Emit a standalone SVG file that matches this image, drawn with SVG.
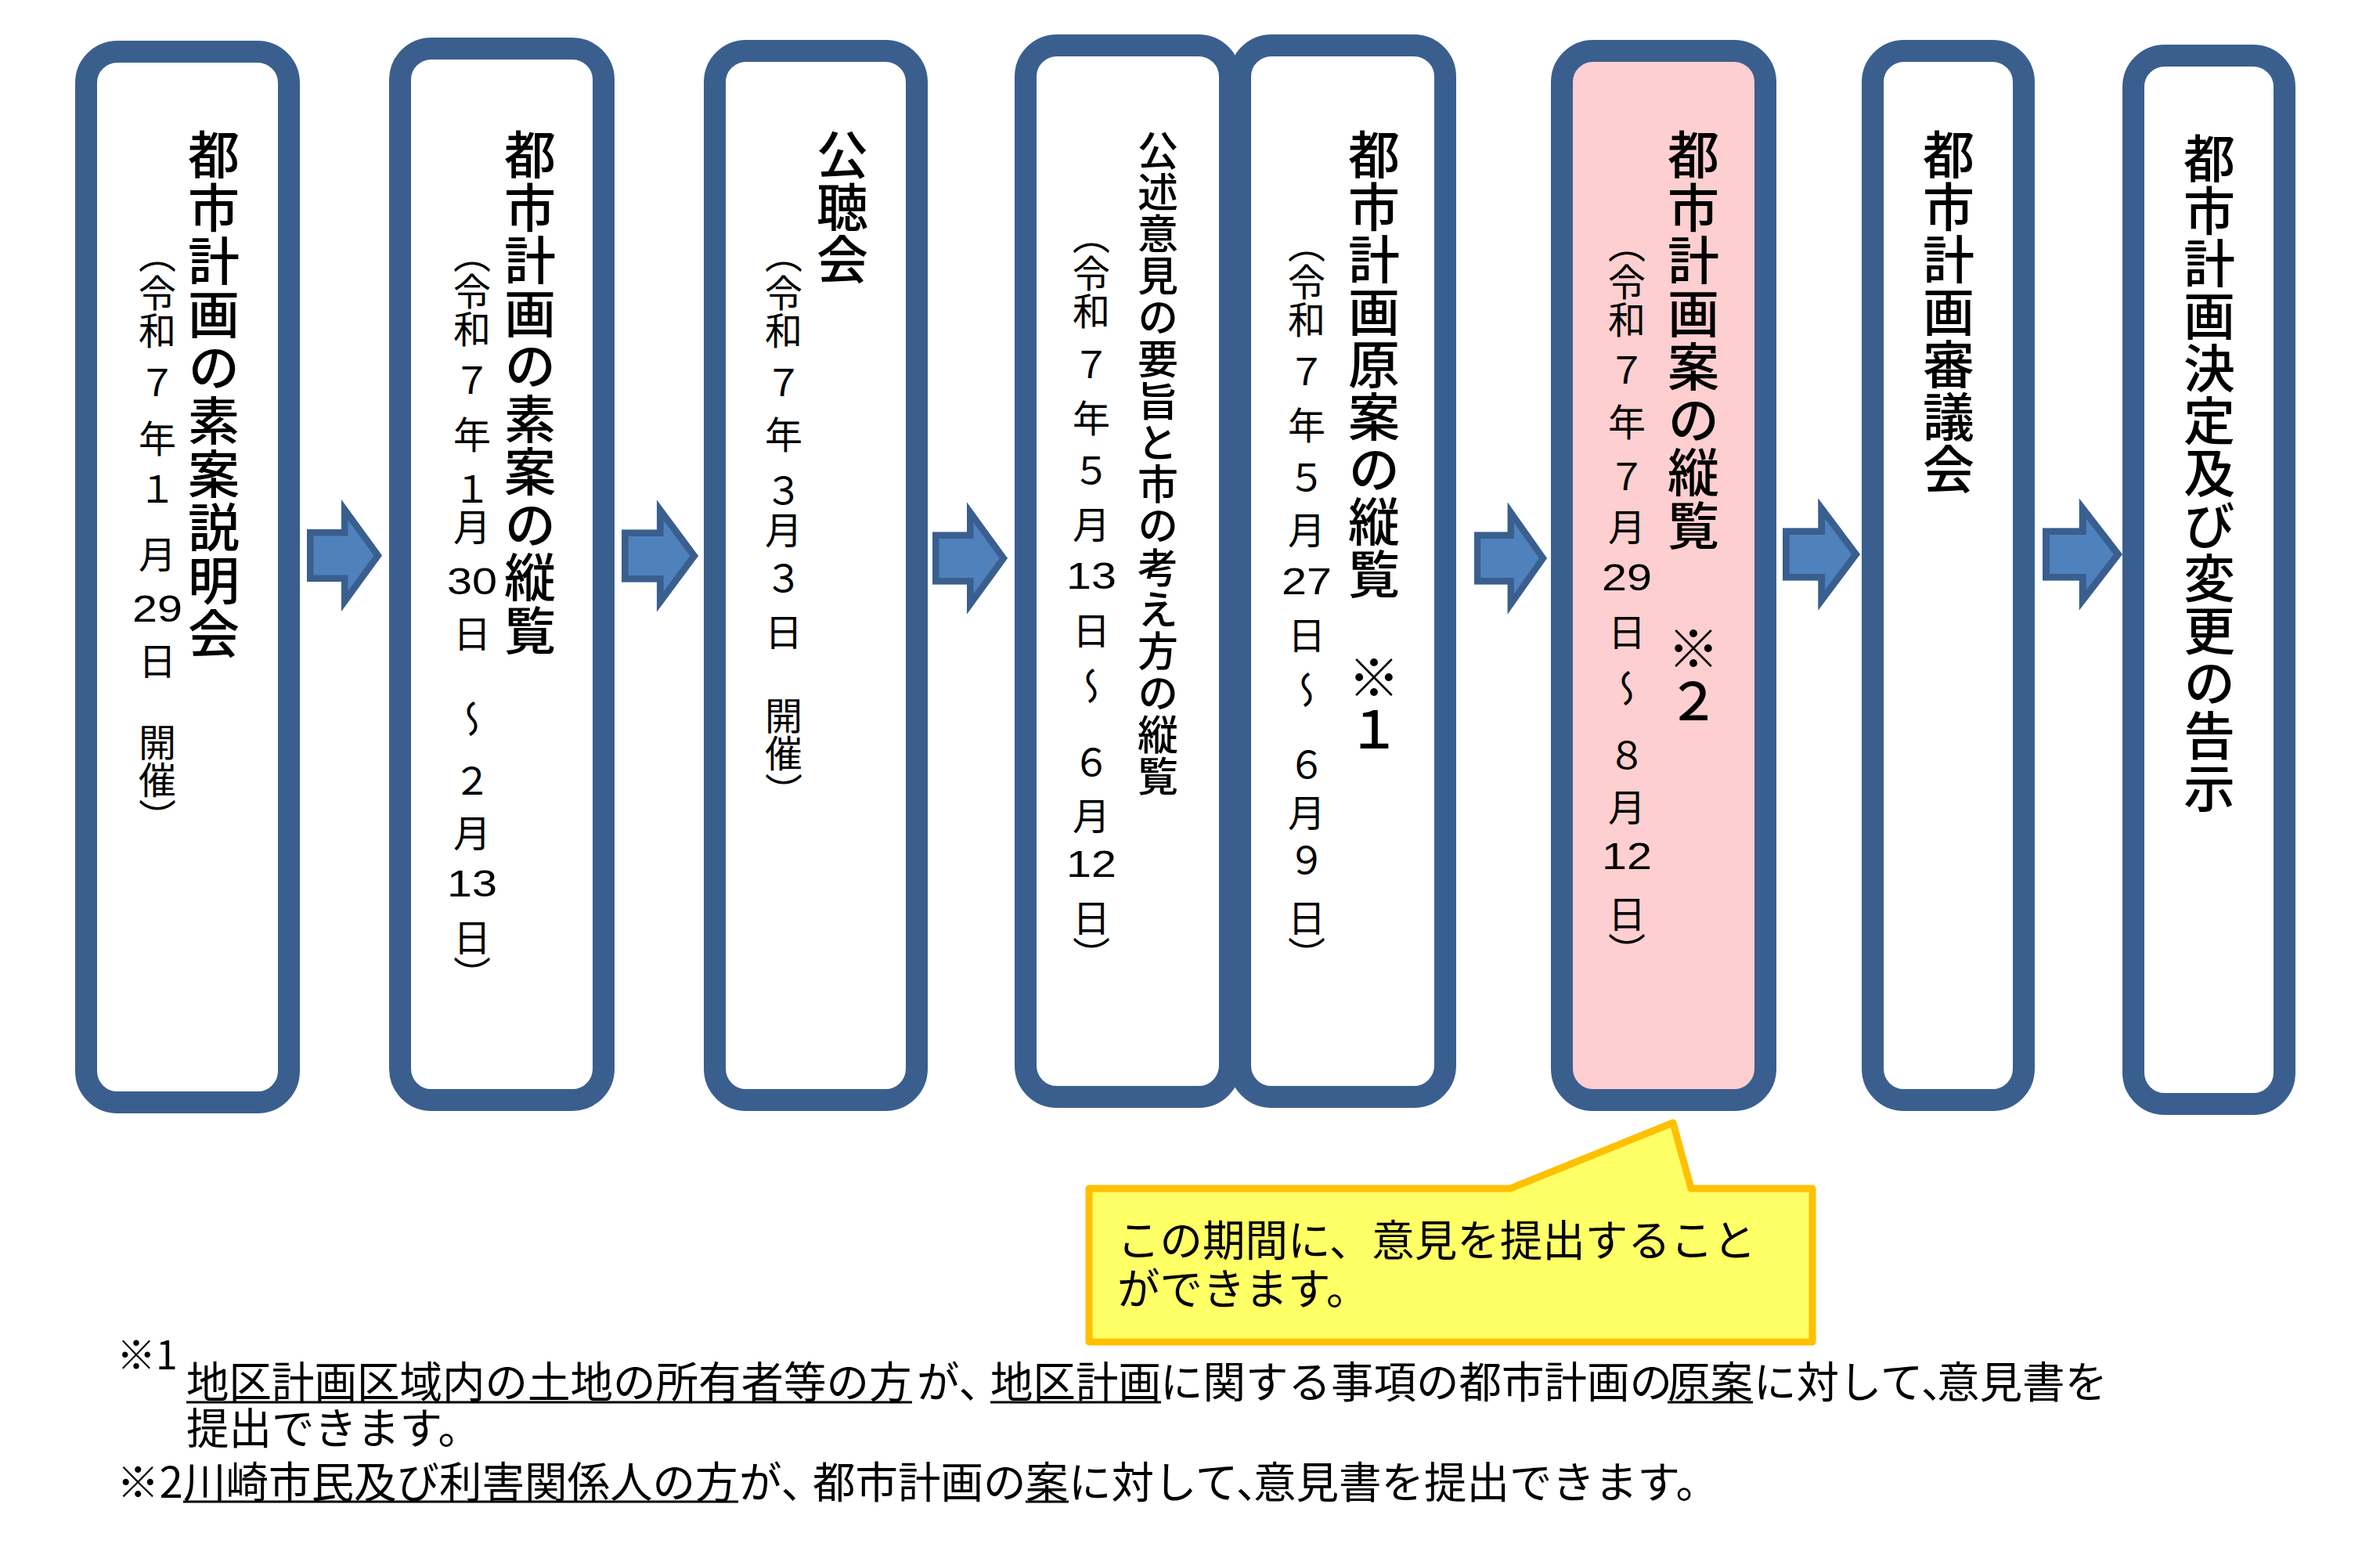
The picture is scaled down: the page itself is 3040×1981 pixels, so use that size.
<svg xmlns="http://www.w3.org/2000/svg" xmlns:xlink="http://www.w3.org/1999/xlink" width="3040" height="1981" viewBox="0 0 3040 1981">
<style>
.box{fill:#FFFFFF;stroke:#3A5F8E;stroke-width:28}
.pink{fill:#FDCFD0}
.jp{font-family:"Noto Sans CJK JP","Noto Sans CJK SC",sans-serif;fill:#000}
.v{writing-mode:vertical-rl}
.main{font-size:66px;font-weight:500}
.main4{font-size:52px;font-weight:500}
.sub{font-size:48px}
.dig{font-family:"Liberation Sans",Arial,sans-serif;font-size:48px;fill:#000}
.arrow{fill:#4F81BD;stroke:#3A5F8E;stroke-width:17;stroke-linejoin:miter}
.callout{fill:#FFFF66;stroke:#FFC000;stroke-width:9;stroke-linejoin:round}
.note{font-size:54.5px}
.ul{stroke:#000;stroke-width:3}
</style>
<defs>
<clipPath id="arrClip"><path d="M0,-33.5 L44,-33.5 L44,-71.5 L96,0 L44,71.5 L44,33.5 L0,33.5 Z"/></clipPath>
<g id="arrow"><path class="arrow" clip-path="url(#arrClip)" d="M0,-33.5 L44,-33.5 L44,-71.5 L96,0 L44,71.5 L44,33.5 L0,33.5 Z"/></g>
</defs>
<rect width="3040" height="1981" fill="#FFFFFF"/>

<g id="connectors">
<use xlink:href="#arrow" href="#arrow" transform="translate(392,709.5)"/>
<use xlink:href="#arrow" href="#arrow" transform="translate(794,710) scale(1.021,1)"/>
<use xlink:href="#arrow" href="#arrow" transform="translate(1191,713)"/>
<use xlink:href="#arrow" href="#arrow" transform="translate(1883,713) scale(0.969,1)"/>
<use xlink:href="#arrow" href="#arrow" transform="translate(2277,708) scale(1.031,1)"/>
<use xlink:href="#arrow" href="#arrow" transform="translate(2609,708) scale(1.0625,1)"/>
</g>

<g id="node1">
<rect class="box" x="110" y="66" width="259" height="1342" rx="40"/>
<text class="jp v main"><tspan x="273" y="164">都</tspan><tspan x="273" y="232">市</tspan><tspan x="273" y="300">計</tspan><tspan x="273" y="368">画</tspan><tspan x="273" y="436">の</tspan><tspan x="273" y="504">素</tspan><tspan x="273" y="572">案</tspan><tspan x="273" y="640">説</tspan><tspan x="273" y="708">明</tspan><tspan x="273" y="776">会</tspan></text>
<text class="jp v sub"><tspan x="201" y="301">（</tspan><tspan x="201" y="350">令</tspan><tspan x="201" y="398">和</tspan><tspan x="201" y="464">７</tspan><tspan x="201" y="536">年</tspan><tspan x="201" y="600">１</tspan><tspan x="201" y="684">月</tspan></text>
<text class="dig" x="169" y="794" textLength="64" lengthAdjust="spacingAndGlyphs">29</text>
<text class="jp v sub"><tspan x="201" y="820">日</tspan><tspan x="201" y="924">開</tspan><tspan x="201" y="972">催</tspan><tspan x="201" y="1020">）</tspan></text>
</g>

<g id="node2">
<rect class="box" x="511" y="62" width="260" height="1343" rx="40"/>
<text class="jp v main"><tspan x="677" y="164">都</tspan><tspan x="677" y="231.5">市</tspan><tspan x="677" y="299">計</tspan><tspan x="677" y="366.5">画</tspan><tspan x="677" y="434">の</tspan><tspan x="677" y="501.5">素</tspan><tspan x="677" y="569">案</tspan><tspan x="677" y="636.5">の</tspan><tspan x="677" y="704">縦</tspan><tspan x="677" y="771.5">覧</tspan></text>
<text class="jp v sub"><tspan x="603" y="301">（</tspan><tspan x="603" y="348">令</tspan><tspan x="603" y="396">和</tspan><tspan x="603" y="461">７</tspan><tspan x="603" y="531">年</tspan><tspan x="603" y="600">１</tspan><tspan x="603" y="649">月</tspan></text>
<text class="dig" x="571" y="759" textLength="64" lengthAdjust="spacingAndGlyphs">30</text>
<text class="jp v sub"><tspan x="603" y="785">日</tspan><tspan x="603" y="894">～</tspan><tspan x="603" y="973">２</tspan><tspan x="603" y="1040">月</tspan></text>
<text class="dig" x="571" y="1145" textLength="64" lengthAdjust="spacingAndGlyphs">13</text>
<text class="jp v sub"><tspan x="603" y="1173">日</tspan><tspan x="603" y="1221">）</tspan></text>
</g>

<g id="node3">
<rect class="box" x="913" y="65" width="258" height="1340" rx="40"/>
<text class="jp v main"><tspan x="1076" y="164">公</tspan><tspan x="1076" y="231">聴</tspan><tspan x="1076" y="298">会</tspan></text>
<text class="jp v sub"><tspan x="1001" y="301">（</tspan><tspan x="1001" y="350">令</tspan><tspan x="1001" y="398">和</tspan><tspan x="1001" y="464">７</tspan><tspan x="1001" y="531">年</tspan><tspan x="1001" y="602">３</tspan><tspan x="1001" y="653">月</tspan><tspan x="1001" y="714">３</tspan><tspan x="1001" y="783">日</tspan><tspan x="1001" y="890">開</tspan><tspan x="1001" y="938">催</tspan><tspan x="1001" y="987">）</tspan></text>
</g>

<g id="node4">
<rect class="box" x="1310" y="58" width="261" height="1343" rx="40"/>
<text class="jp v main4"><tspan x="1479" y="166">公</tspan><tspan x="1479" y="219.3">述</tspan><tspan x="1479" y="272.6">意</tspan><tspan x="1479" y="325.9">見</tspan><tspan x="1479" y="379.2">の</tspan><tspan x="1479" y="432.5">要</tspan><tspan x="1479" y="485.8">旨</tspan><tspan x="1479" y="539.1">と</tspan><tspan x="1479" y="592.4">市</tspan><tspan x="1479" y="645.7">の</tspan><tspan x="1479" y="699">考</tspan><tspan x="1479" y="752.3">え</tspan><tspan x="1479" y="805.6">方</tspan><tspan x="1479" y="858.9">の</tspan><tspan x="1479" y="912.2">縦</tspan><tspan x="1479" y="965.5">覧</tspan></text>
<text class="jp v sub"><tspan x="1394" y="277">（</tspan><tspan x="1394" y="325">令</tspan><tspan x="1394" y="373">和</tspan><tspan x="1394" y="441">７</tspan><tspan x="1394" y="510">年</tspan><tspan x="1394" y="577">５</tspan><tspan x="1394" y="646">月</tspan></text>
<text class="dig" x="1362" y="752" textLength="64" lengthAdjust="spacingAndGlyphs">13</text>
<text class="jp v sub"><tspan x="1394" y="781">日</tspan><tspan x="1394" y="852">～</tspan><tspan x="1394" y="949">６</tspan><tspan x="1394" y="1018">月</tspan></text>
<text class="dig" x="1362" y="1120" textLength="64" lengthAdjust="spacingAndGlyphs">12</text>
<text class="jp v sub"><tspan x="1394" y="1148">日</tspan><tspan x="1394" y="1196">）</tspan></text>
</g>

<g id="node5">
<rect class="box" x="1584" y="58" width="262" height="1343" rx="40"/>
<text class="jp v main"><tspan x="1755" y="164">都</tspan><tspan x="1755" y="231">市</tspan><tspan x="1755" y="298">計</tspan><tspan x="1755" y="365">画</tspan><tspan x="1755" y="432">原</tspan><tspan x="1755" y="499">案</tspan><tspan x="1755" y="566">の</tspan><tspan x="1755" y="633">縦</tspan><tspan x="1755" y="700">覧</tspan><tspan x="1755" y="832">※</tspan><tspan x="1755" y="899">１</tspan></text>
<text class="jp v sub"><tspan x="1669" y="288">（</tspan><tspan x="1669" y="336">令</tspan><tspan x="1669" y="384">和</tspan><tspan x="1669" y="450">７</tspan><tspan x="1669" y="519">年</tspan><tspan x="1669" y="586">５</tspan><tspan x="1669" y="653">月</tspan></text>
<text class="dig" x="1637" y="759" textLength="64" lengthAdjust="spacingAndGlyphs">27</text>
<text class="jp v sub"><tspan x="1669" y="787">日</tspan><tspan x="1669" y="857">～</tspan><tspan x="1669" y="952">６</tspan><tspan x="1669" y="1014">月</tspan><tspan x="1669" y="1074">９</tspan><tspan x="1669" y="1148">日</tspan><tspan x="1669" y="1196">）</tspan></text>
</g>

<g id="node6">
<rect class="box pink" x="1995" y="65" width="260" height="1340" rx="40"/>
<text class="jp v main"><tspan x="2163" y="164">都</tspan><tspan x="2163" y="231.7">市</tspan><tspan x="2163" y="299.4">計</tspan><tspan x="2163" y="367.1">画</tspan><tspan x="2163" y="434.8">案</tspan><tspan x="2163" y="502.5">の</tspan><tspan x="2163" y="570.2">縦</tspan><tspan x="2163" y="637.9">覧</tspan><tspan x="2163" y="795">※</tspan><tspan x="2163" y="862">２</tspan></text>
<text class="jp v sub"><tspan x="2078" y="288">（</tspan><tspan x="2078" y="336">令</tspan><tspan x="2078" y="384">和</tspan><tspan x="2078" y="448">７</tspan><tspan x="2078" y="515">年</tspan><tspan x="2078" y="584">７</tspan><tspan x="2078" y="649">月</tspan></text>
<text class="dig" x="2046" y="754" textLength="64" lengthAdjust="spacingAndGlyphs">29</text>
<text class="jp v sub"><tspan x="2078" y="783">日</tspan><tspan x="2078" y="855">～</tspan><tspan x="2078" y="940">８</tspan><tspan x="2078" y="1007">月</tspan></text>
<text class="dig" x="2046" y="1110" textLength="64" lengthAdjust="spacingAndGlyphs">12</text>
<text class="jp v sub"><tspan x="2078" y="1143">日</tspan><tspan x="2078" y="1191">）</tspan></text>
</g>

<g id="node7">
<rect class="box" x="2392" y="65" width="193" height="1340" rx="40"/>
<text class="jp v main"><tspan x="2489" y="164">都</tspan><tspan x="2489" y="231">市</tspan><tspan x="2489" y="298">計</tspan><tspan x="2489" y="365">画</tspan><tspan x="2489" y="432">審</tspan><tspan x="2489" y="499">議</tspan><tspan x="2489" y="566">会</tspan></text>
</g>

<g id="node8">
<rect class="box" x="2725" y="71" width="193" height="1339" rx="40"/>
<text class="jp v main"><tspan x="2822" y="169">都</tspan><tspan x="2822" y="236">市</tspan><tspan x="2822" y="303">計</tspan><tspan x="2822" y="370">画</tspan><tspan x="2822" y="437">決</tspan><tspan x="2822" y="504">定</tspan><tspan x="2822" y="571">及</tspan><tspan x="2822" y="638">び</tspan><tspan x="2822" y="705">変</tspan><tspan x="2822" y="772">更</tspan><tspan x="2822" y="839">の</tspan><tspan x="2822" y="906">告</tspan><tspan x="2822" y="973">示</tspan></text>
</g>

<g id="callout">
<path class="callout" d="M1391,1518 L1929,1518 L2137,1434 L2160,1518 L2315,1518 L2315,1714 L1391,1714 Z"/>
<text class="jp note"><tspan x="1427" y="1604">この期間に、意見を提出すること</tspan><tspan x="1427" y="1666">ができます。</tspan></text>
</g>

<g id="footnotes">
<text class="jp" font-size="50" x="149" y="1749">※1</text>
<text class="jp note"><tspan x="238" y="1785">地区計画区域内の土地の所有者等の方</tspan><tspan x="1171" y="1785">が、</tspan><tspan x="1265" y="1785">地区計画</tspan><tspan x="1482" y="1785">に関する事項の都市計画の</tspan><tspan x="2130" y="1785">原案</tspan><tspan x="2240" y="1785">に対して、</tspan><tspan x="2474" y="1785">意見書を</tspan></text>
<text class="jp note" x="238" y="1844">提出できます。</text>
<text class="jp note"><tspan x="149" y="1913">※2</tspan><tspan x="234" y="1913">川崎市民及び利害関係人の方</tspan><tspan x="944" y="1913">が、</tspan><tspan x="1038" y="1913">都市計画の</tspan><tspan x="1310" y="1913">案</tspan><tspan x="1365" y="1913">に対して、</tspan><tspan x="1601" y="1913">意見書を提出できます。</tspan></text>
<line class="ul" x1="238" y1="1791" x2="1165" y2="1791"/>
<line class="ul" x1="1265" y1="1791" x2="1483" y2="1791"/>
<line class="ul" x1="2130" y1="1791" x2="2239" y2="1791"/>
<line class="ul" x1="234" y1="1918" x2="943" y2="1918"/>
<line class="ul" x1="1310" y1="1918" x2="1365" y2="1918"/>
</g>
</svg>
